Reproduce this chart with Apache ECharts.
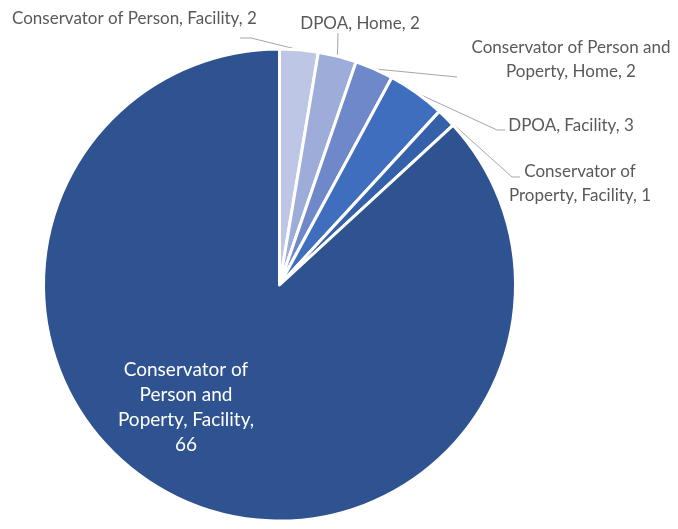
<!DOCTYPE html>
<html>
<head>
<meta charset="utf-8">
<script src="https://cdn.jsdelivr.net/npm/echarts@6/dist/echarts.min.js"></script>
<style>
  html, body { margin: 0; padding: 0; background: #fff; }
  #chart { width: 678px; height: 529px; }
</style>
</head>
<body>
<div id="chart"></div>
<script>
// Guardianship placements by arrangement type and setting
var categories = [
  'Conservator of Person, Facility',
  'DPOA, Home',
  'Conservator of Person and\nPoperty, Home',
  'DPOA, Facility',
  'Conservator of\nProperty, Facility',
  'Conservator of\nPerson and\nPoperty, Facility'
];
var values = [2, 2, 2, 3, 1, 66];
var sliceColors = ['#BDC7E5', '#9DACD8', '#6F88CA', '#3F6EBF', '#3560AA', '#2F5290'];

// Where each label sits and how its leader line bends (x, y in px)
var labelPlace = [
  { x: 12,  y: 19,  align: 'left',   bend: [[251, 38], [240, 38]] },
  { x: 360, y: 24,  align: 'center', bend: [[338, 33], [338, 33]] },
  { x: 571, y: 60,  align: 'center', bend: [[457, 77], [457, 77]] },
  { x: 571, y: 126, align: 'center', bend: [[497, 130], [505, 130]] },
  { x: 580, y: 184, align: 'center', bend: [[512, 177], [520, 177]] },
  { x: 186, y: 407, align: 'center', bend: null }
];

var data = categories.map(function (name, i) {
  var item = { name: name, value: values[i], itemStyle: { color: sliceColors[i] } };
  if (i === categories.length - 1) {
    item.label = { color: '#ffffff', formatter: '{b},\n{c}', fontSize: 19, lineHeight: 25 };
    item.labelLine = { show: false };
  }
  return item;
});

var chart = echarts.init(document.getElementById('chart'), null, { renderer: 'canvas' });
chart.setOption({
  animation: false,
  backgroundColor: '#ffffff',
  series: [{
    type: 'pie',
    center: [279.5, 285],
    radius: [0, 236],
    startAngle: 90,
    clockwise: true,
    avoidLabelOverlap: false,
    data: data,
    itemStyle: { borderColor: '#ffffff', borderWidth: 3 },
    label: {
      show: true,
      position: 'outside',
      formatter: '{b}, {c}',
      fontFamily: 'Lato',
      fontSize: 17,
      lineHeight: 24,
      color: '#595959',
      align: 'center'
    },
    labelLine: {
      show: true,
      length: 10,
      length2: 10,
      lineStyle: { color: '#A6A6A6', width: 1 }
    },
    labelLayout: function (params) {
      var p = labelPlace[params.dataIndex];
      var out = { x: p.x, y: p.y, align: p.align, verticalAlign: 'middle' };
      if (p.bend && params.labelLinePoints) {
        out.labelLinePoints = [params.labelLinePoints[0], p.bend[0], p.bend[1]];
      }
      return out;
    }
  }]
});
</script>
</body>
</html>
